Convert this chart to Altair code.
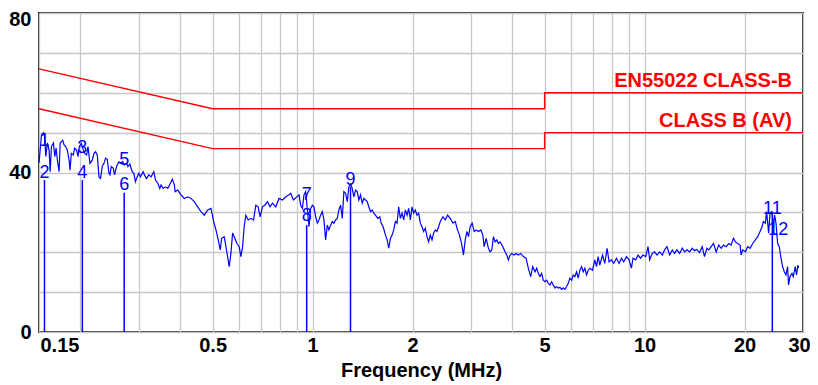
import altair as alt
import pandas as pd

# ---- measured trace (frequency in MHz, level in dBuV) ----
freq = [
0.150, 0.1526, 0.1547, 0.1561, 0.1572, 0.1590, 0.1609, 0.1621, 0.1635, 0.1658,
0.1673, 0.1689, 0.1704, 0.1724, 0.1737, 0.1752, 0.1768, 0.1785, 0.1804, 0.1826,
0.1848, 0.1860, 0.1877, 0.1903, 0.1921, 0.1947, 0.1966, 0.1984, 0.2012, 0.2040,
0.2058, 0.2087, 0.2107, 0.2136, 0.2171, 0.2196, 0.2221, 0.2247, 0.2274, 0.2299,
0.2326, 0.2354, 0.2380, 0.2408, 0.2437, 0.2454, 0.2476, 0.2510, 0.2533, 0.2568,
0.2611, 0.2640, 0.2677, 0.2714, 0.2752, 0.2779, 0.2817, 0.2862, 0.2896, 0.2928,
0.2963, 0.2998, 0.3031, 0.3089, 0.3116, 0.3160, 0.3213, 0.3264, 0.3326, 0.3363,
0.3419, 0.3467, 0.3498, 0.3547, 0.3604, 0.3664, 0.3731, 0.3782, 0.3835, 0.3854,
0.3926, 0.4017, 0.4110, 0.4207, 0.4304, 0.4404, 0.4509, 0.4613, 0.4719, 0.4832,
0.4943, 0.5037, 0.5117, 0.5199, 0.5272, 0.5323, 0.5419, 0.5484, 0.5548, 0.5610,
0.5677, 0.5743, 0.5836, 0.5917, 0.6012, 0.6083, 0.6155, 0.6224, 0.6297, 0.6398,
0.6518, 0.6641, 0.6748, 0.6856, 0.6952, 0.7067, 0.7180, 0.7316, 0.7448, 0.7573,
0.7748, 0.7927, 0.8115, 0.8303, 0.8494, 0.8594, 0.8756, 0.8959, 0.9102, 0.9210,
0.9319, 0.9423, 0.9534, 0.9647, 0.9754, 0.9869, 0.9986, 1.0097, 1.0217, 1.0337,
1.0453, 1.0576, 1.0701, 1.0820, 1.0948, 1.1078, 1.1200, 1.1334, 1.1468, 1.1595,
1.1733, 1.1872, 1.2003, 1.2146, 1.2289, 1.2425, 1.2572, 1.2721, 1.2863, 1.3014,
1.3169, 1.3315, 1.3473, 1.3631, 1.3784, 1.3947, 1.4111, 1.4268, 1.4438, 1.4608,
1.4771, 1.4947, 1.5123, 1.5291, 1.5471, 1.5718, 1.5937, 1.6092, 1.6318, 1.6579,
1.6776, 1.6961, 1.7161, 1.7365, 1.7559, 1.7765, 1.7971, 1.8173, 1.8386, 1.8603,
1.8813, 1.9034, 1.9258, 1.9473, 1.9703, 1.9936, 2.0157, 2.0397, 2.0638, 2.0868,
2.1115, 2.1364, 2.1600, 2.1857, 2.2117, 2.2360, 2.2628, 2.2897, 2.3151, 2.3424,
2.3703, 2.3967, 2.4248, 2.4706, 2.5103, 2.5504, 2.5987, 2.6476, 2.6901, 2.7331,
2.7712, 2.8097, 2.8483, 2.8822, 2.9163, 2.9486, 2.9837, 3.0251, 3.0671, 3.1098,
3.1600, 3.2126, 3.2575, 3.2869, 3.3328, 3.3862, 3.4260, 3.4665, 3.5054, 3.5465,
3.5888, 3.6287, 3.6717, 3.7410, 3.8007, 3.8457, 3.8886, 3.9344, 3.981, 4.0447,
4.1012, 4.1669, 4.2366, 4.3134, 4.3946, 4.4651, 4.5399, 4.6035, 4.6772, 4.7323,
4.7850, 4.8416, 4.8992, 4.9534, 5.012, 5.0711, 5.1278, 5.1884, 5.2496, 5.3077,
5.3709, 5.4345, 5.4947, 5.5598, 5.6255, 5.6885, 5.7554, 5.8235, 5.8885, 5.9579,
6.0286, 6.0955, 6.1680, 6.2406, 6.310, 6.3845, 6.4602, 6.5321, 6.6091, 6.6873,
6.7618, 6.8419, 6.9707, 7.0823, 7.1654, 7.2448, 7.3306, 7.4688, 7.5887, 7.7103,
7.8175, 7.949, 8.0757, 8.2281, 8.3775, 8.5173, 8.6539, 8.8175, 8.977, 9.128,
9.229, 9.403, 9.554, 9.714, 9.890, 10.08, 10.24, 10.36, 10.55, 10.72,
10.90, 11.10, 11.31, 11.49, 11.68, 11.90, 12.12, 12.31, 12.51, 12.75,
12.99, 13.20, 13.41, 13.66, 13.92, 14.14, 14.37, 14.64, 14.91, 15.15,
15.40, 15.61, 15.87, 16.13, 16.43, 16.73, 17.01, 17.28, 17.61, 17.92,
18.22, 18.52, 18.77, 19.07, 19.39, 19.53, 19.74, 20.12, 20.44, 20.78,
21.16, 21.56, 21.90, 22.27, 22.58, 22.79, 23.10, 23.31, 23.64, 23.87,
24.20, 24.42, 24.64, 24.88, 25.16, 25.45, 25.75, 26.04, 26.35, 26.66,
26.96, 27.14, 27.41, 27.79, 28.04, 28.43, 28.68, 28.96, 29.08,
]
level = [
42.4, 49.4, 50.0, 49.0, 44.0, 47.4, 45.6, 40.2, 46.5, 47.4,
44.0, 46.1, 43.1, 40.2, 47.4, 47.7, 48.1, 46.9, 46.5, 45.6,
43.1, 40.6, 44.8, 44.4, 46.1, 45.6, 44.0, 46.5, 47.3, 45.6,
44.8, 44.4, 46.5, 42.3, 43.1, 44.8, 45.2, 44.4, 38.9, 38.5,
41.5, 42.3, 43.6, 43.3, 39.8, 39.4, 41.5, 41.1, 39.4, 41.5,
42.7, 42.3, 42.7, 41.9, 42.3, 41.5, 42.1, 40.2, 39.8, 37.7,
38.9, 39.8, 38.9, 40.2, 39.4, 38.5, 39.4, 38.9, 40.2, 38.1,
37.3, 36.0, 36.9, 36.0, 36.4, 36.0, 37.3, 38.3, 36.9, 35.2,
35.6, 34.4, 33.5, 33.9, 33.5, 32.7, 31.4, 30.2, 29.3, 30.6,
31.0, 27.7, 25.6, 23.1, 20.6, 23.5, 23.9, 21.4, 18.9, 16.4,
19.7, 24.8, 23.5, 22.2, 21.4, 18.9, 21.4, 26.4, 29.3, 28.1,
28.5, 28.1, 31.8, 31.4, 28.9, 31.4, 31.8, 32.7, 31.4, 32.3,
31.4, 33.5, 33.1, 33.9, 34.4, 34.8, 33.1, 33.9, 34.4, 31.8,
31.0, 34.4, 35.2, 30.6, 26.4, 31.0, 31.8, 31.4, 28.9, 27.3,
28.1, 29.3, 30.2, 28.1, 23.1, 26.8, 25.6, 26.8, 27.7, 27.3,
28.1, 28.5, 30.6, 31.8, 28.5, 35.2, 34.8, 32.7, 36.4, 37.1,
36.0, 33.9, 35.6, 35.2, 33.1, 34.4, 32.3, 33.5, 33.1, 32.7,
31.4, 30.2, 30.6, 29.8, 29.3, 28.5, 28.9, 27.3, 26.4, 24.3,
23.1, 21.0, 23.5, 24.3, 25.6, 27.7, 27.3, 31.4, 28.5, 29.8,
28.1, 30.6, 29.3, 31.0, 28.1, 31.4, 29.8, 30.6, 29.3, 29.8,
27.3, 26.4, 25.2, 26.0, 23.9, 22.6, 24.3, 23.1, 24.8, 25.6,
25.2, 26.4, 27.7, 28.9, 28.1, 29.3, 28.5, 27.3, 27.7, 25.6,
24.3, 22.2, 19.3, 23.1, 25.2, 23.9, 26.4, 27.3, 25.2, 25.6,
25.2, 25.6, 24.3, 21.4, 23.5, 21.0, 20.1, 20.6, 23.9, 22.6,
23.1, 22.2, 22.6, 21.4, 20.1, 19.3, 18.1, 19.3, 19.7, 19.3,
19.7, 19.3, 19.7, 18.9, 18.5, 16.0, 13.9, 16.4, 15.1, 16.0,
14.7, 13.9, 14.7, 13.0, 12.6, 13.0, 12.2, 11.8, 12.6, 11.8,
11.0, 11.4, 11.0, 11.2, 10.7, 11.1, 10.7, 11.4, 12.2, 13.5,
13.0, 14.3, 13.9, 15.1, 13.5, 15.5, 16.4, 15.1, 16.0, 14.3,
15.5, 16.0, 15.5, 18.1, 16.4, 18.9, 16.8, 19.3, 17.2, 21.0,
17.6, 18.1, 17.2, 18.5, 17.2, 18.5, 17.6, 18.9, 18.1, 16.0,
18.5, 18.1, 19.3, 18.5, 19.3, 18.9, 21.4, 18.1, 19.7, 20.1,
19.3, 20.1, 19.3, 20.6, 21.4, 19.3, 20.6, 19.7, 20.6, 19.7,
21.0, 20.1, 20.6, 20.1, 21.0, 20.4, 20.7, 19.9, 21.4, 18.9,
21.0, 20.6, 21.4, 22.2, 20.1, 21.8, 21.0, 21.8, 21.4, 22.2,
21.8, 23.5, 22.6, 22.2, 21.8, 19.3, 20.6, 20.1, 21.4, 21.0,
22.2, 23.1, 23.9, 25.2, 26.4, 27.7, 27.3, 30.2, 24.8, 29.8,
30.2, 26.4, 29.3, 27.3, 22.2, 21.4, 18.5, 16.4, 15.1, 14.3,
16.4, 11.8, 13.9, 14.7, 13.9, 16.4, 14.3, 16.8, 16.0,
]

# ---- limit lines (EN55022 class B) ----
limit_f = [0.15, 0.5, 5, 5, 30]
qp_limit = [66, 56, 56, 60, 60]
av_limit = [56, 46, 46, 50, 50]
limit_names = ["EN55022 CLASS-B", "CLASS B (AV)"]

# ---- markers ----
marker_f = [0.1558, 0.2026, 0.2708, 0.960, 1.301, 24.25]
marker_bottom = [0, 0, 0, 0, 0, 0]
marker_top = [38.1, 38.1, 34.9, 26.8, 36.4, 30.1]
label_ids = ["1", "2", "3", "4", "5", "6", "7", "8", "9", "11", "12"]
label_f = [0.1558, 0.1558, 0.2026, 0.2026, 0.2708, 0.2708, 0.960, 0.960, 1.301, 24.25, 24.25]
label_level = [48.0, 39.9, 46.1, 39.9, 43.1, 36.9, 34.4, 29.1, 38.1, 30.8, 25.6]

# ---- axes ----
grid_x = [0.15, 0.2, 0.3, 0.4, 0.5, 0.6, 0.7, 0.8, 0.9, 1, 2, 3, 4, 5, 6, 7, 8, 9, 10, 20, 30]
label_x = [0.15, 0.5, 1, 2, 5, 10, 20, 30]
grid_y = [0, 10, 20, 30, 40, 50, 60, 70, 80]
label_y = [0, 40, 80]

trace_df = pd.DataFrame({"f": freq, "level": level, "i": list(range(len(freq)))})
limit_df = pd.DataFrame({
    "f": limit_f + limit_f,
    "level": qp_limit + av_limit,
    "limit": [limit_names[0]] * len(limit_f) + [limit_names[1]] * len(limit_f),
    "i": list(range(len(limit_f))) * 2,
})
limit_lab_df = pd.DataFrame({"f": [limit_f[-1], limit_f[-1]],
                             "level": [qp_limit[-1], av_limit[-1]],
                             "name": limit_names})
marker_df = pd.DataFrame({"f": marker_f, "level": marker_bottom, "top": marker_top})
mlabel_df = pd.DataFrame({"f": label_f, "level": label_level, "id": label_ids})

xlist = ",".join(str(v) for v in label_x)
ylist = ",".join(str(v) for v in label_y)

x_axis = alt.Axis(
    values=grid_x, format="~g",
    labelExpr=f"indexof([{xlist}], datum.value) >= 0 ? datum.label : ''",
    labelAlign={"condition": {"test": "datum.value < 0.16", "value": "left"}, "value": "center"},
    labelOffset={"condition": [{"test": "datum.value < 0.16", "value": 1},
                               {"test": "datum.value > 29", "value": -4}], "value": 0},
    labelPadding=3, titlePadding=5,
)
y_axis = alt.Axis(
    values=grid_y,
    labelExpr=f"indexof([{ylist}], datum.value) >= 0 ? datum.label : ''",
    labelOffset={"condition": {"test": "datum.value > 79", "value": 6}, "value": 0},
    labelPadding=8,
)

xs = alt.Scale(type="log", domain=[0.15, 30], nice=False)
ys = alt.Scale(domain=[0, 80], nice=False)
X = alt.X("f:Q", scale=xs, axis=x_axis, title="Frequency (MHz)")
Y = alt.Y("level:Q", scale=ys, axis=y_axis, title=None)

limits = alt.Chart(limit_df).mark_line(color="#ff0000", strokeWidth=1.4).encode(
    x=X, y=Y, detail="limit:N", order="i:Q")
trace = alt.Chart(trace_df).mark_line(color="#0000ff", strokeWidth=1.2).encode(
    x=X, y=Y, order="i:Q")
rules = alt.Chart(marker_df).mark_rule(color="#0000ff", strokeWidth=1.5).encode(
    x=X, y=Y, y2="top:Q")
mlabels = alt.Chart(mlabel_df).transform_filter("datum.id != '12'").mark_text(
    font="Liberation Sans", fontSize=18, color="#0000ff", align="center", baseline="middle"
).encode(x=X, y=Y, text="id:N")
mlabel12 = alt.Chart(mlabel_df).transform_filter("datum.id == '12'").mark_text(
    font="Liberation Sans", fontSize=18, color="#0000ff", align="center", baseline="middle", dx=6
).encode(x=X, y=Y, text="id:N")
limlabels = alt.Chart(limit_lab_df).mark_text(
    font="Liberation Sans", fontSize=20, fontWeight="bold", color="#ff0000",
    align="right", baseline="alphabetic", dx=-11, dy=-6
).encode(x=X, y=Y, text="name:N")

chart = alt.layer(limits, trace, rules, mlabels, mlabel12, limlabels).properties(
    width=764, height=319, autosize="none",
    padding={"left": 31, "top": 5, "right": 7, "bottom": 53},
    background="white",
).configure_view(
    stroke="#303030", strokeWidth=2
).configure_axis(
    domain=False, ticks=False, tickSize=0, grid=True,
    gridColor="#c8c8c8", gridWidth=1.3,
    labelFont="Liberation Sans", labelFontSize=20, labelFontWeight="bold", labelColor="black",
    titleFont="Liberation Sans", titleFontSize=20, titleFontWeight="bold", titleColor="black",
)

chart.save("out.html", embed_options={"renderer": "svg", "actions": False})
